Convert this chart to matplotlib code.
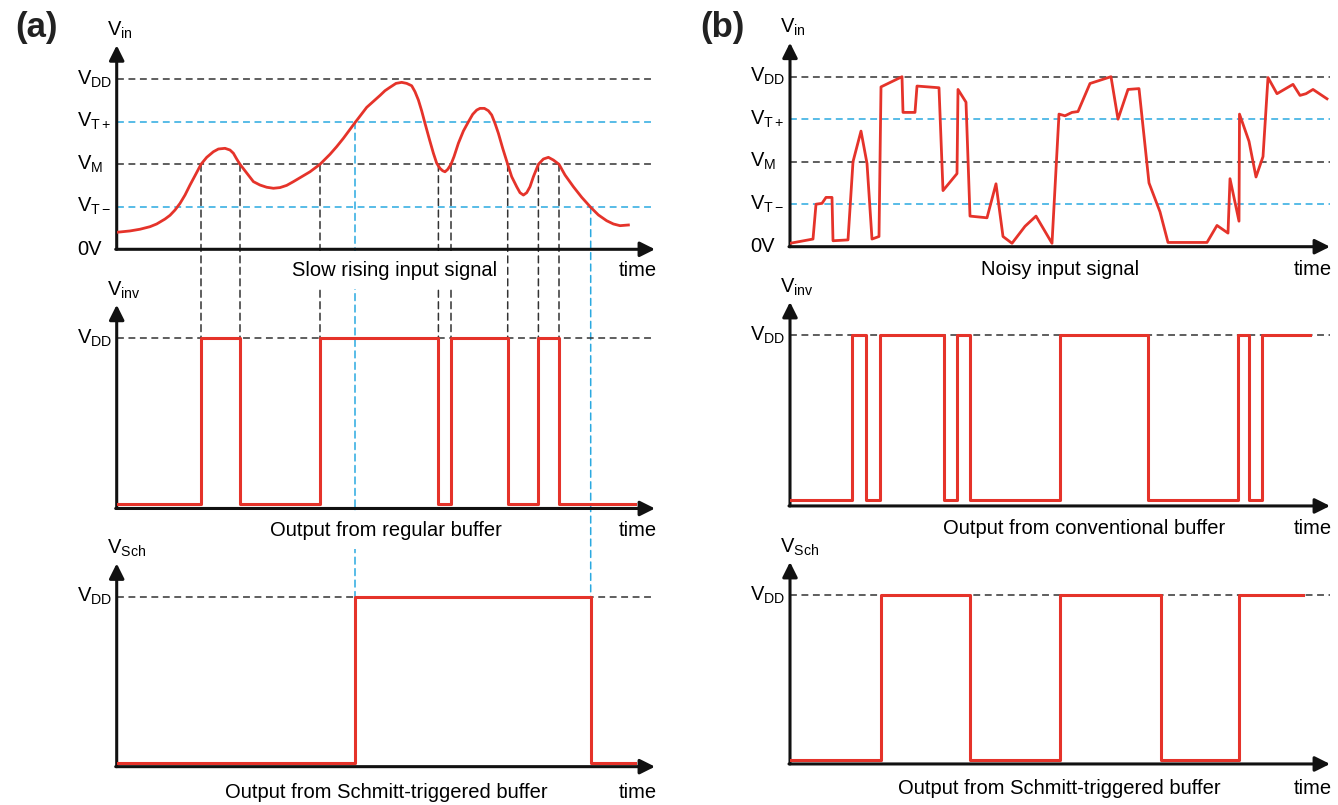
import matplotlib.pyplot as plt
import matplotlib.transforms as mtransforms
from matplotlib.patches import ConnectionPatch

plt.rcParams['font.family'] = ['Liberation Sans', 'DejaVu Sans']

# ---- (a) slow rising input signal (time, V/VDD)
a_t = [0, 13.3, 23.3, 33.3, 40, 48.3, 53.3, 58.3, 63.3, 68.3, 73.3, 78.3,
       84.3, 90, 96.7, 101.7, 108.3, 113.3, 116.7, 120, 123.3, 136.7, 143.3,
       150, 156.7, 163.3, 170, 176.7, 193.3, 203.3, 213.3, 220, 226.7, 238.3,
       250, 263.3, 268.3, 273.3, 279.3, 285, 290, 295, 298.3, 301.7, 305,
       308.3, 312.7, 316.7, 320, 323.3, 326, 328.3, 331, 334.3, 337.3, 341.7,
       346.7, 351.7, 356, 360, 363.3, 367.7, 371.7, 375, 378.3, 381.7, 386,
       391, 395, 400, 403.3, 406.7, 410, 413.3, 416.7, 421.7, 426.7, 431.7,
       436.7, 442.3, 448.3, 456.7, 465, 474, 481.7, 490, 496.7, 503.3, 511.7]
a_v = [0.10, 0.108, 0.118, 0.133, 0.149, 0.178, 0.20, 0.231, 0.27, 0.319,
       0.378, 0.433, 0.50, 0.541, 0.574, 0.59, 0.594, 0.584, 0.565, 0.531,
       0.50, 0.398, 0.378, 0.365, 0.359, 0.363, 0.376, 0.398, 0.456, 0.50,
       0.559, 0.604, 0.653, 0.745, 0.835, 0.905, 0.933, 0.953, 0.976, 0.982,
       0.976, 0.962, 0.927, 0.878, 0.814, 0.741, 0.647, 0.565, 0.506, 0.476,
       0.462, 0.456, 0.47, 0.50, 0.545, 0.624, 0.696, 0.75, 0.794, 0.819,
       0.829, 0.829, 0.815, 0.79, 0.741, 0.682, 0.594, 0.50, 0.427, 0.368,
       0.333, 0.319, 0.333, 0.368, 0.427, 0.50, 0.531, 0.541, 0.525, 0.50,
       0.437, 0.368, 0.306, 0.247, 0.202, 0.168, 0.149, 0.139, 0.143]

# crossings of VM, VT+ and VT-
a_vm_cross = [84.3, 123.3, 203.3, 321.7, 334.3, 391.0, 421.7, 442.3]
a_vtp_cross = [238.3]
a_vtm_cross = [474.0]

# outputs (a)
a_reg_t = [0, 84.3, 123.3, 203.3, 321.7, 334.3, 391.0, 421.7, 442.3, 518]
a_reg_v = [0, 1, 0, 1, 0, 1, 0, 1, 0, 0]
a_sch_t = [0, 238.3, 474.0, 518]
a_sch_v = [0, 1, 0, 0]

# ---- (b) noisy input signal
b_t = [0, 23, 26, 32, 36, 42, 43, 58, 63, 71, 77, 82, 89, 91, 112, 113, 125,
       127, 149, 153, 167, 168, 176, 180, 197, 206, 213, 222, 235, 246, 262,
       269, 275, 282, 288, 300, 321, 328, 338, 349, 359, 370, 378, 417, 427,
       438, 440, 449, 449.5, 459, 466, 473, 478, 487, 503, 510, 516, 523, 537]
b_v = [0.02, 0.045, 0.25, 0.255, 0.29, 0.29, 0.035, 0.04, 0.50, 0.68, 0.49,
       0.045, 0.06, 0.94, 1.0, 0.79, 0.79, 0.945, 0.935, 0.33, 0.43, 0.925,
       0.85, 0.18, 0.17, 0.37, 0.06, 0.02, 0.12, 0.18, 0.02, 0.78, 0.77, 0.79,
       0.795, 0.96, 1.0, 0.75, 0.925, 0.93, 0.375, 0.205, 0.025, 0.025, 0.125,
       0.08, 0.40, 0.15, 0.78, 0.62, 0.41, 0.53, 0.995, 0.90, 0.955, 0.89,
       0.90, 0.925, 0.87]

b_conv_t = [0, 62.2, 76.1, 90.4, 153.7, 166.9, 180.4, 270.4, 358.3, 448.4,
            459, 472.2, 520.2]
b_conv_v = [0, 1, 0, 1, 0, 1, 0, 1, 0, 1, 0, 1, 1]
b_sch_t = [0, 90.7, 180.4, 270.4, 370.8, 449, 513]
b_sch_v = [0, 1, 0, 1, 0, 1, 1]

levels = [1.0, 0.75, 0.5, 0.25]
level_names = ['DD', 'T+', 'M', 'T-']

RED = '#e5332a'
BLUE = '#2aa9e0'
DARK = '#333333'
DASH = (0, (4.5, 3))
FS = 14.5

W, H = 1338, 805
fig = plt.figure(figsize=(W / 100, H / 100), dpi=100)


def panel(x0, x1, tmax, top, bot, zero, one):
    ax = fig.add_axes([x0 / W, 1 - bot / H, (x1 - x0) / W, (bot - top) / H])
    s = zero - one
    ax.set_xlim(0, tmax)
    ax.set_ylim((zero - bot) / s, (zero - top) / s)
    ax.axis('off')
    return ax


def frame(ax, tmax, base, ylab, lab_x, cap, cap_t, cap_v, names):
    arrow = dict(arrowstyle='-|>,head_length=0.6,head_width=0.3', lw=2.2,
                 color='#111111', shrinkA=0, shrinkB=0, mutation_scale=15)
    ax.annotate('', xy=(tmax, base), xytext=(-1, base), arrowprops=arrow)
    ax.annotate('', xy=(0, 1.2), xytext=(0, base), arrowprops=arrow)
    tr = mtransforms.blended_transform_factory(fig.transFigure, ax.transData)
    ax.text((lab_x + 30) / W, 1.29, 'V$_\\mathregular{' + ylab + '}$',
            transform=tr, ha='left', va='center', fontsize=FS)
    for lv, nm in zip(levels[:len(names)], names):
        c = BLUE if nm.startswith('T') else DARK
        ax.plot([0, tmax], [lv, lv], color=c, ls=DASH, lw=1.1, zorder=1)
        ax.text(lab_x / W, lv, 'V$_\\mathregular{' + nm + '}$', transform=tr,
                ha='left', va='center', fontsize=FS)
    if len(names) > 1:
        ax.text(lab_x / W, 0, '0V', transform=tr, ha='left', va='center',
                fontsize=FS)
    ax.text(cap_t, cap_v, cap, ha='center', va='center', fontsize=FS, zorder=5,
            bbox=dict(facecolor='white', edgecolor='none', pad=7))
    ax.text(tmax + 2, cap_v, 'time', ha='right', va='center', fontsize=FS)


# ---- column (a)
ax_a1 = panel(116.7, 655, 538.3, 0, 285, 249.3, 79.3)
ax_a2 = panel(116.7, 655, 538.3, 285, 545, 504, 338)
ax_a3 = panel(116.7, 655, 538.3, 545, 805, 763, 596.7)

frame(ax_a1, 538.3, 0, 'in', 77, 'Slow rising input signal', 277.8, -0.122, level_names)
frame(ax_a2, 538.3, -0.027, 'inv', 77, 'Output from regular buffer', 269.3, -0.157, ['DD'])
frame(ax_a3, 538.3, -0.022, 'Sch', 77, 'Output from Schmitt-triggered buffer', 270, -0.18, ['DD'])

ax_a1.plot(a_t, a_v, color=RED, lw=2, solid_joinstyle='round', zorder=3)
ax_a2.plot(a_reg_t, a_reg_v, drawstyle='steps-post', color=RED, lw=2.2, zorder=3)
ax_a3.plot(a_sch_t, a_sch_v, drawstyle='steps-post', color=RED, lw=2.2, zorder=3)

# dashed guides from the input crossings down to the outputs
for t in a_vm_cross:
    con = ConnectionPatch(xyA=(t, 0.5), coordsA=ax_a1.transData,
                          xyB=(t, 1.0), coordsB=ax_a2.transData,
                          color=DARK, lw=1.1, linestyle=DASH, zorder=-1)
    fig.add_artist(con)
for t, lv in zip(a_vtp_cross + a_vtm_cross, [0.75, 0.25]):
    con = ConnectionPatch(xyA=(t, lv), coordsA=ax_a1.transData,
                          xyB=(t, 1.0), coordsB=ax_a3.transData,
                          color=BLUE, lw=1.1, linestyle=DASH, zorder=-1)
    fig.add_artist(con)

# ---- column (b)
ax_b1 = panel(790, 1330, 540, 0, 285, 246.7, 76.7)
ax_b2 = panel(790, 1330, 540, 285, 545, 500, 335)
ax_b3 = panel(790, 1330, 540, 545, 805, 760, 595)

frame(ax_b1, 540, 0, 'in', 750, 'Noisy input signal', 270, -0.137, level_names)
frame(ax_b2, 540, -0.036, 'inv', 750, 'Output from conventional buffer', 294, -0.17, ['DD'])
frame(ax_b3, 540, -0.024, 'Sch', 750, 'Output from Schmitt-triggered buffer', 269.6, -0.17, ['DD'])

ax_b1.plot(b_t, b_v, color=RED, lw=2, solid_joinstyle='round', zorder=3)
ax_b2.plot(b_conv_t, b_conv_v, drawstyle='steps-post', color=RED, lw=2.2, zorder=3)
ax_b3.plot(b_sch_t, b_sch_v, drawstyle='steps-post', color=RED, lw=2.2, zorder=3)

fig.text(15 / W, 1 - 28 / H, '(a)', fontsize=25, fontweight='bold',
         va='center', color='#222222')
fig.text(700 / W, 1 - 28 / H, '(b)', fontsize=25, fontweight='bold',
         va='center', color='#222222')

fig.savefig('out.png', dpi=100, facecolor='white')
